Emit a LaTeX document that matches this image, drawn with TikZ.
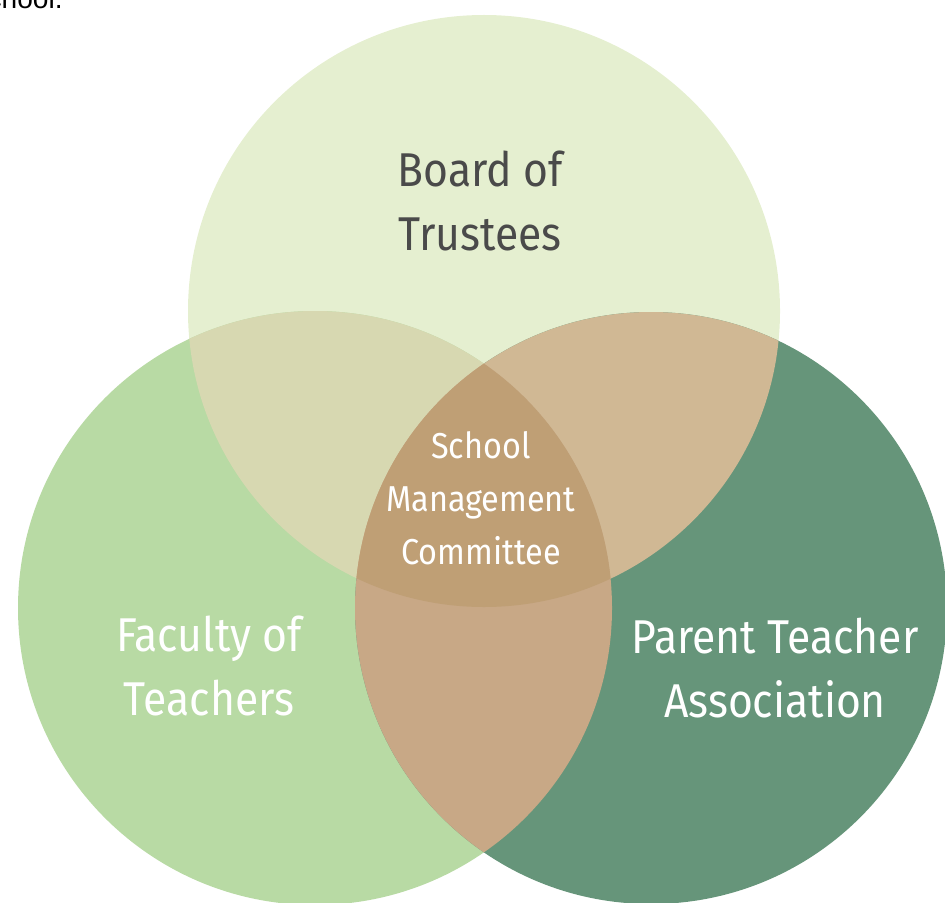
\documentclass[tikz,border=0pt]{standalone}
\usepackage{fontspec}
\setmainfont{Fira Sans}[FakeStretch=0.9]
\newfontfamily\bodyfont{Liberation Sans}

\definecolor{boardgreen}{HTML}{E5EFD0}
\definecolor{facultygreen}{HTML}{B8DAA4}
\definecolor{parentgreen}{HTML}{66957A}
\definecolor{boardfaculty}{HTML}{D7D8B1}
\definecolor{boardparent}{HTML}{D0B894}
\definecolor{facultyparent}{HTML}{C8A886}
\definecolor{committee}{HTML}{BF9F75}
\definecolor{labelgray}{HTML}{4A4A4A}

\begin{document}
\begin{tikzpicture}[x=0.02cm,y=-0.02cm,
		biglabel/.style={align=center,font=\fontsize{27}{36}\selectfont},
		smalllabel/.style={align=center,font=\fontsize{20.5}{30}\selectfont,text=white}]
	\useasboundingbox (0,0) rectangle (945,902);
	% centres of the three groups
	\coordinate (board) at (484,311);
	\coordinate (faculty) at (315,608);
	\coordinate (parent) at (651,608);
	% the three circles
	\fill[boardgreen] (board) circle (296);
	\fill[facultygreen] (faculty) circle (297);
	\fill[parentgreen] (parent) circle (296);
	% pairwise overlaps
	\begin{scope}
		\clip (board) circle (296);
		\fill[boardfaculty] (faculty) circle (297);
		\fill[boardparent] (parent) circle (296);
	\end{scope}
	\begin{scope}
		\clip (faculty) circle (297);
		\fill[facultyparent] (parent) circle (296);
	\end{scope}
	% middle part shared by all three
	\begin{scope}
		\clip (board) circle (296);
		\clip (faculty) circle (297);
		\fill[committee] (parent) circle (296);
	\end{scope}
	% labels
	\node[biglabel,text=labelgray] (boardtext) at (480,201) {Board of\\Trustees};
	\node[biglabel,text=white] (facultytext) at (209,666) {Faculty of\\Teachers};
	\node[biglabel,text=white] (parenttext) at (775,668) {Parent Teacher\\Association};
	\node[smalllabel] (smctext) at (481,498) {School\\Management\\Committee};
	% end of the sentence above
	\node[anchor=base east,inner sep=0pt,font=\bodyfont\fontsize{16}{19}\selectfont] (prevline) at (63,9) {school.};
\end{tikzpicture}
\end{document}
